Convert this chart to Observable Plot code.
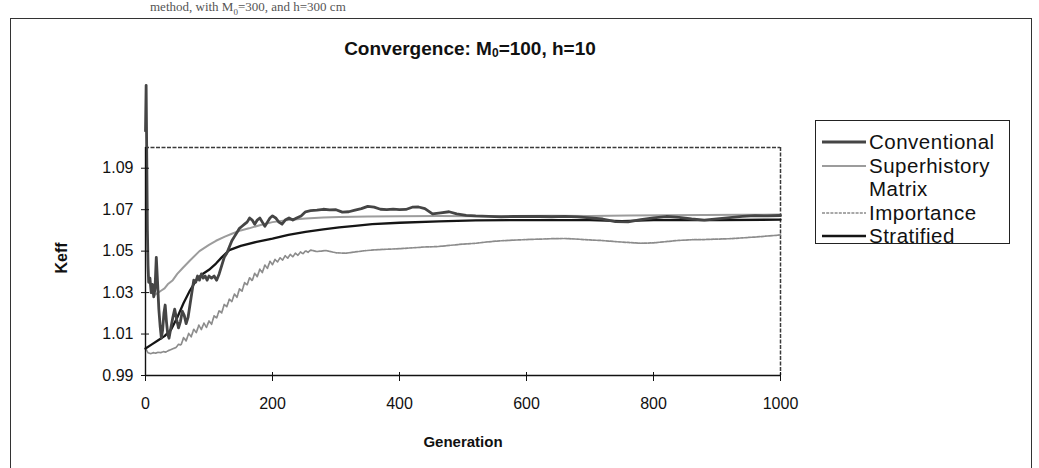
<!DOCTYPE html>
<html><head><meta charset="utf-8">
<script src="https://cdn.jsdelivr.net/npm/d3@7"></script>
<script src="https://cdn.jsdelivr.net/npm/@observablehq/plot@0.6"></script>
<style>
body{margin:0;background:#fff;font-family:"Liberation Sans",Arial,sans-serif;}
#wrap{position:relative;width:1039px;height:468px;overflow:hidden;background:#fff;}
#frame{position:absolute;left:10px;top:18px;width:1020px;height:470px;border:1.5px solid #333;border-bottom:none;}
#doc{position:absolute;left:150px;top:0px;font-family:"Liberation Serif",serif;font-size:13px;line-height:14px;color:#555;white-space:nowrap;}
#doc sub{font-size:9px;}
#title{position:absolute;left:0;width:940px;top:38px;text-align:center;font-weight:bold;font-size:19px;color:#111;}
#title sub{font-size:12px;vertical-align:-2px;}
#ylab{position:absolute;left:62px;top:258px;transform:translate(-50%,-50%) rotate(-90deg);font-weight:bold;font-size:16px;color:#111;}
#xlab{position:absolute;left:463px;top:441px;transform:translate(-50%,-50%);font-weight:bold;font-size:15px;color:#111;}
#chart{position:absolute;left:0;top:0;}
#legend{position:absolute;left:815px;top:120px;width:193px;height:122px;border:1.5px solid #222;}
.item{position:absolute;left:5px;height:22px;display:flex;align-items:center;font-size:20.5px;letter-spacing:0.5px;color:#111;white-space:nowrap;}
.item svg{margin-right:2px;}
</style></head>
<body>
<div id="wrap">
  <div id="doc">method, with M<sub>0</sub>=300, and h=300 cm</div>
  <div id="frame"></div>
  <div id="title">Convergence: M<sub>0</sub>=100, h=10</div>
  <div id="chart"></div>
  <div id="ylab">Keff</div>
  <div id="xlab">Generation</div>
  <div id="legend"></div>
</div>
<script>
// ---- data ----
const seriesNames = ["Conventional", "Superhistory", "Matrix", "Importance", "Stratified"];
const xTicks = [0, 200, 400, 600, 800, 1000];
const yTicks = [0.99, 1.01, 1.03, 1.05, 1.07, 1.09];
const xDomain = [0, 1000];
const yDomain = [0.99, 1.10];

const conventionalGen = [0,1,2,3,4,5,7,9,11,13,15,17,19,21,23,25,27,29,31,33,35,37,40,43,46,49,52,55,58,61,64,67,70,73,76,79,82,85,88,91,94,97,100,104,108,112,116,120,124,128,132,136,140,144,148,152,156,160,164,168,172,176,180,184,188,192,196,200,205,210,215,220,226,232,238,245,252,260,270,280,290,300,310,320,330,340,350,360,370,380,390,400,410,420,430,440,452,465,478,490,505,520,540,560,580,600,620,640,660,680,700,720,740,760,780,800,820,840,860,880,900,920,940,960,980,1000];
const conventionalK = [1.108,1.13,1.095,1.06,1.043,1.035,1.037,1.03,1.034,1.028,1.032,1.047,1.035,1.022,1.014,1.008,1.012,1.02,1.024,1.016,1.01,1.008,1.013,1.018,1.022,1.017,1.013,1.016,1.021,1.019,1.015,1.018,1.024,1.03,1.036,1.035,1.038,1.036,1.039,1.037,1.038,1.036,1.038,1.037,1.038,1.036,1.039,1.043,1.047,1.049,1.052,1.055,1.057,1.059,1.061,1.062,1.063,1.064,1.066,1.065,1.063,1.065,1.066,1.064,1.062,1.064,1.066,1.067,1.066,1.064,1.063,1.065,1.066,1.065,1.066,1.067,1.069,1.0695,1.0698,1.0702,1.0699,1.07,1.0688,1.069,1.0698,1.0705,1.0716,1.0712,1.0702,1.07,1.0703,1.07,1.0701,1.0712,1.0713,1.0705,1.068,1.0685,1.069,1.068,1.0673,1.067,1.0668,1.0665,1.0667,1.0668,1.0667,1.0666,1.0668,1.0665,1.066,1.0655,1.0642,1.0641,1.0652,1.066,1.0667,1.0663,1.0655,1.065,1.0656,1.0662,1.0668,1.0671,1.067,1.0672];

const superhistoryGen = [8,15,20,25,30,35,43,50,59,70,85,100,111,125,137,150,163,180,200,225,252,280,305,350,400,462,520,580,640,700,760,820,880,940,1000];
const superhistoryK = [1.030,1.029,1.030,1.031,1.032,1.034,1.036,1.039,1.042,1.0455,1.05,1.053,1.055,1.057,1.0585,1.06,1.061,1.0625,1.064,1.065,1.0657,1.0662,1.0665,1.0667,1.0668,1.067,1.0668,1.067,1.0671,1.067,1.0672,1.0673,1.0674,1.0675,1.0677];

const matrixGen = [];
const matrixK = [];

const importanceGen = [0,4,8,12,16,20,24,28,32,36,40,44,48,52,56,60,64,68,72,76,80,84,88,92,96,100,104,108,112,116,120,124,128,132,136,140,144,148,152,156,160,164,168,172,176,180,184,188,192,196,200,204,208,212,216,220,224,228,232,236,240,244,248,252,256,260,270,284,300,315,330,345,360,380,400,420,440,460,480,500,520,540,560,580,600,620,640,660,680,700,720,740,760,780,800,820,840,860,880,900,920,940,960,980,1000];
const importanceK = [1.003,1.001,1.0005,1.001,1.0008,1.0012,1.001,1.0015,1.0013,1.002,1.0025,1.003,1.0035,1.005,1.0047,1.0083,1.0067,1.0103,1.0087,1.0123,1.0107,1.0143,1.0122,1.0153,1.0132,1.0163,1.0147,1.0188,1.0177,1.0213,1.0202,1.0243,1.0232,1.0268,1.0257,1.0293,1.0277,1.0318,1.0307,1.0348,1.0337,1.0373,1.0357,1.0393,1.0377,1.0413,1.0397,1.0433,1.0417,1.0451,1.0435,1.046,1.0448,1.0468,1.0457,1.0478,1.0466,1.0484,1.0473,1.049,1.048,1.0496,1.0487,1.0502,1.0494,1.0505,1.0498,1.0503,1.0492,1.049,1.0496,1.0502,1.0506,1.0509,1.0512,1.0516,1.052,1.0522,1.0528,1.0534,1.0538,1.0545,1.055,1.0553,1.0556,1.0558,1.056,1.0561,1.0558,1.0554,1.0551,1.0546,1.0542,1.0538,1.054,1.0546,1.0552,1.0555,1.0556,1.0558,1.056,1.0564,1.0568,1.0573,1.0578];

const stratifiedGen = [0,10,20,30,40,50,60,70,80,90,100,111,120,132,150,175,200,225,252,280,305,330,357,400,462,520,600,700,750,800,900,1000];
const stratifiedK = [1.003,1.005,1.007,1.009,1.012,1.018,1.025,1.031,1.036,1.039,1.041,1.044,1.047,1.0505,1.0525,1.0545,1.056,1.0578,1.0593,1.0605,1.0615,1.0622,1.063,1.0637,1.0644,1.0648,1.065,1.065,1.0645,1.065,1.065,1.0652];

// ---- styles ----
const styles = {
  Conventional: {stroke: "#454545", width: 2.8, dash: null},
  Superhistory: {stroke: "#9c9c9c", width: 2, dash: null},
  Matrix: {stroke: "none", width: 0, dash: null},
  Importance: {stroke: "#8c8c8c", width: 1.7, dash: "3,1.2"},
  Stratified: {stroke: "#151515", width: 2.3, dash: null}
};

const toRows = (name, gens, ks) => gens.map((g, i) => ({series: name, gen: g, k: ks[i]}));
const data = {
  Conventional: toRows("Conventional", conventionalGen, conventionalK),
  Superhistory: toRows("Superhistory", superhistoryGen, superhistoryK),
  Matrix: toRows("Matrix", matrixGen, matrixK),
  Importance: toRows("Importance", importanceGen, importanceK),
  Stratified: toRows("Stratified", stratifiedGen, stratifiedK)
};

const drawOrder = ["Importance", "Superhistory", "Stratified", "Conventional"];
const lineMarks = drawOrder.map(n => Plot.line(data[n], {
  x: "gen", y: "k", stroke: styles[n].stroke, strokeWidth: styles[n].width,
  strokeDasharray: styles[n].dash, strokeLinejoin: "round", strokeLinecap: "round"
}));

const fmt = d => d.toFixed(2);
const chart = Plot.plot({
  width: 1039, height: 468,
  marginLeft: 145, marginRight: 259, marginTop: 147, marginBottom: 93,
  style: {fontFamily: "'Liberation Sans', Arial, sans-serif", color: "#111", background: "transparent"},
  x: {domain: xDomain, axis: null},
  y: {domain: yDomain, axis: null},
  marks: [
    Plot.ruleY([yDomain[1]], {stroke: "#3a3a3a", strokeWidth: 1.5, strokeDasharray: "4,1.5"}),
    Plot.ruleX([xDomain[1]], {stroke: "#3a3a3a", strokeWidth: 1.5, strokeDasharray: "4,1.5"}),
    ...lineMarks,
    Plot.ruleX([xDomain[0]], {stroke: "#111", strokeWidth: 1.4}),
    Plot.ruleY([yDomain[0]], {stroke: "#111", strokeWidth: 1.4}),
    Plot.axisY(yTicks, {tickSize: 0, tickPadding: 12, tickFormat: fmt, fontSize: 16, label: null}),
    Plot.axisY(yTicks, {tickSize: 8, dx: 4, tickFormat: () => "", label: null, stroke: "#111"}),
    Plot.axisX(xTicks, {tickSize: 0, tickPadding: 22, fontSize: 16, label: null, tickFormat: d => String(d)}),
    Plot.axisX(xTicks, {tickSize: 9, dy: -3, tickFormat: () => "", label: null, stroke: "#111"})
  ]
});
document.getElementById("chart").appendChild(chart);

// ---- legend ----
const legend = document.getElementById("legend");
seriesNames.forEach((n, i) => {
  const s = styles[n];
  const div = document.createElement("div");
  div.className = "item";
  div.style.top = (10 + i * 23.5) + "px";
  const sw = s.stroke === "none" ? `<svg width="46" height="10"></svg>` :
    `<svg width="46" height="10"><line x1="1" y1="5" x2="45" y2="5" stroke="${s.stroke}" stroke-width="${s.width}" ${s.dash ? `stroke-dasharray="${s.dash}"` : ""}/></svg>`;
  div.innerHTML = sw + `<span>${n}</span>`;
  legend.appendChild(div);
});
</script>
</body></html>
